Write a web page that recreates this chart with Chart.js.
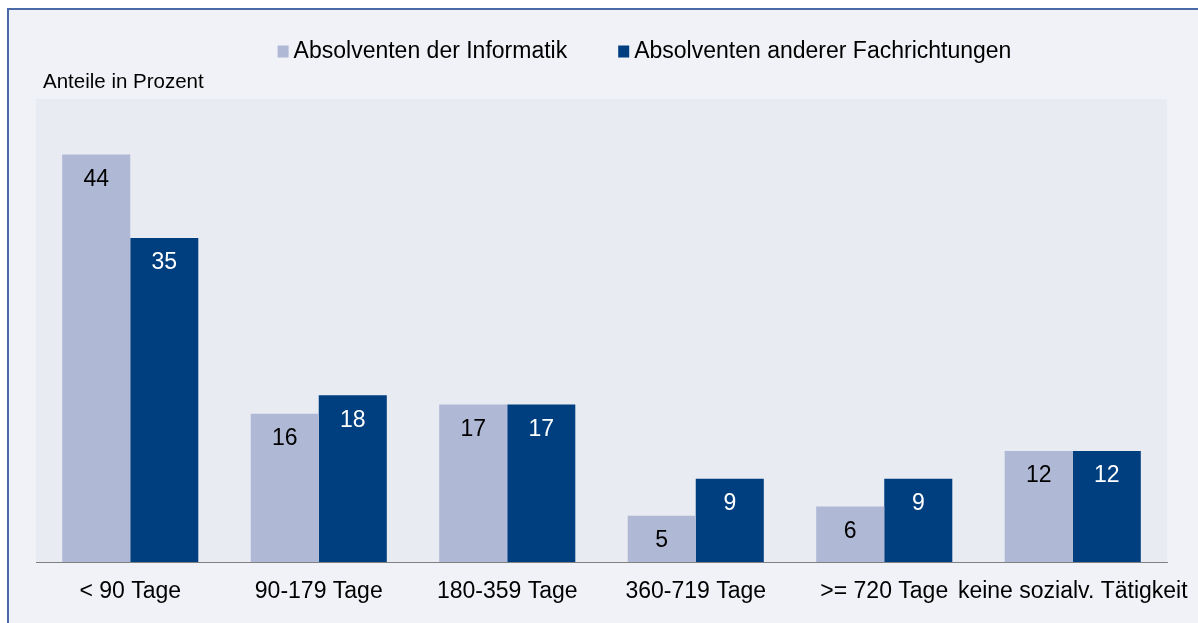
<!DOCTYPE html>
<html>
<head>
<meta charset="utf-8">
<script src="https://cdn.jsdelivr.net/npm/chart.js@4"></script>
<style>
  html, body { margin: 0; padding: 0; background: #ffffff; width: 1198px; height: 623px; overflow: hidden; }
  #frame { position: absolute; left: 7px; top: 8px; width: 1400px; height: 800px;
           border-left: 2px solid #4A69A6; border-top: 2px solid #4A69A6; background: #F0F2F7; }
  #c { position: absolute; left: 0; top: 0; }
</style>
</head>
<body>
<div id="frame"></div>
<canvas id="c" width="1198" height="623"></canvas>
<script>
const categories = ['< 90 Tage', '90-179 Tage', '180-359 Tage', '360-719 Tage', '>= 720 Tage', 'keine sozialv. Tätigkeit'];
const seriesNames = ['Absolventen der Informatik', 'Absolventen anderer Fachrichtungen'];
const informatik = [44, 16, 17, 5, 6, 12];
const andere = [35, 18, 17, 9, 9, 12];
const yAxisTitle = 'Anteile in Prozent';
const yMin = 0;
const yMax = 50;

const FONT = '"Liberation Sans", Arial, sans-serif';
const LIGHT = '#AFB8D4';
const DARK = '#003F7F';

const plotBg = {
  id: 'plotBg',
  beforeDraw(chart) {
    const {ctx, chartArea: a} = chart;
    ctx.save();
    ctx.fillStyle = '#E8EBF2';
    ctx.fillRect(a.left, a.top, a.right - a.left, a.bottom - a.top);
    ctx.restore();
  }
};

const annotations = {
  id: 'annotations',
  afterDraw(chart) {
    const {ctx, chartArea: a} = chart;
    ctx.save();
    // axis title
    ctx.font = '20.5px ' + FONT;
    ctx.fillStyle = '#000';
    ctx.textAlign = 'left';
    ctx.textBaseline = 'middle';
    ctx.fillText(yAxisTitle, a.left + 7, a.top - 17);

    // legend
    ctx.font = '23px ' + FONT;
    const boxW = 11, boxH = 12, gapText = 5, gapItem = 51;
    const widths = chart.data.datasets.map(d => boxW + gapText + ctx.measureText(d.label).width);
    const total = widths.reduce((s, w) => s + w, 0) + gapItem * (widths.length - 1);
    let x = (a.left + a.right) / 2 + 43 - total / 2;
    const ly = 51.5;
    chart.data.datasets.forEach((d, i) => {
      ctx.fillStyle = d.backgroundColor;
      ctx.fillRect(x, ly - boxH / 2, boxW, boxH);
      ctx.fillStyle = '#000';
      ctx.textAlign = 'left';
      ctx.fillText(d.label, x + boxW + gapText, ly);
      x += widths[i] + gapItem;
    });

    // value labels
    ctx.textAlign = 'center';
    chart.data.datasets.forEach((d, di) => {
      const meta = chart.getDatasetMeta(di);
      ctx.fillStyle = di === 0 ? '#000' : '#fff';
      meta.data.forEach((bar, i) => {
        ctx.fillText(String(d.data[i]), bar.x, bar.y + 25);
      });
    });
    ctx.restore();
  }
};

new Chart(document.getElementById('c'), {
  type: 'bar',
  data: {
    labels: categories,
    datasets: [
      { label: seriesNames[0], data: informatik, backgroundColor: LIGHT, borderWidth: 0 },
      { label: seriesNames[1], data: andere, backgroundColor: DARK, borderWidth: 0 }
    ]
  },
  options: {
    responsive: false,
    animation: false,
    devicePixelRatio: 1,
    layout: { padding: { left: 36, right: 31, top: 99, bottom: 0 } },
    categoryPercentage: 0.722,
    barPercentage: 1.0,
    plugins: {
      legend: { display: false },
      title: { display: false },
      tooltip: { enabled: false }
    },
    scales: {
      x: {
        grid: { display: false },
        border: { display: true, color: '#808080', width: 1 },
        ticks: {
          color: '#000',
          font: { family: FONT, size: 23 },
          padding: 8,
          maxRotation: 0,
          minRotation: 0,
          autoSkip: false
        },
        afterFit(scale) { scale.height = 61; scale.paddingLeft = 0; scale.paddingRight = 0; }
      },
      y: {
        display: false,
        min: yMin,
        max: yMax
      }
    }
  },
  plugins: [plotBg, annotations]
});
</script>
</body>
</html>
